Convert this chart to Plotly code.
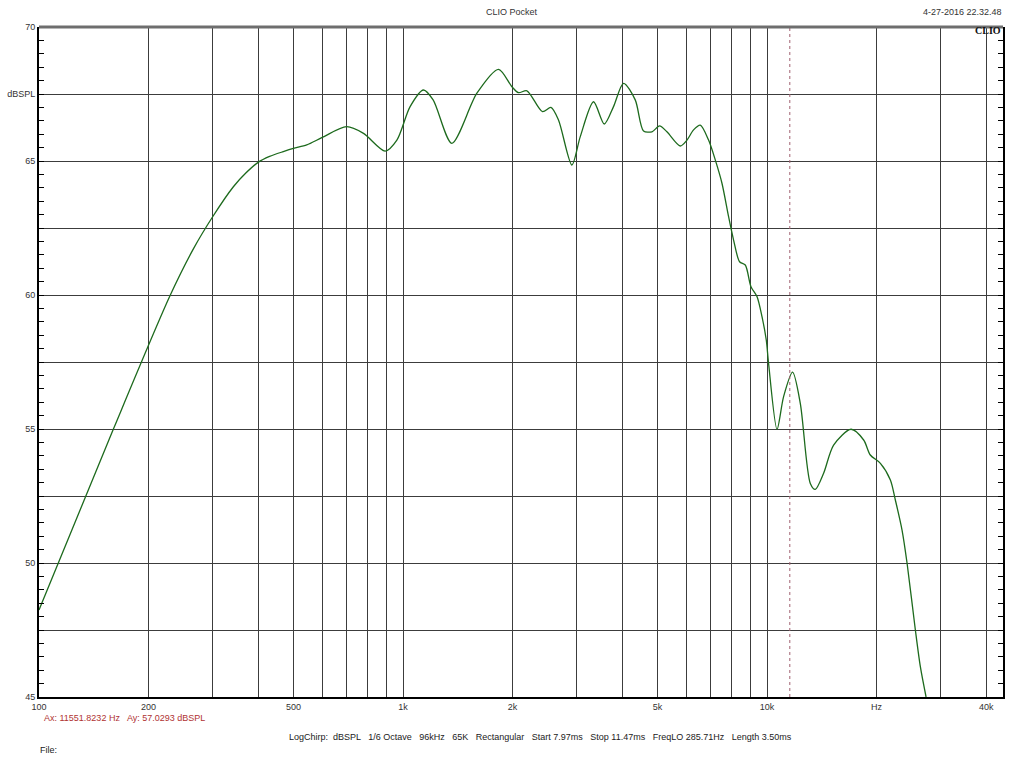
import plotly.graph_objects as go
import math

# Frequency response (Hz, dBSPL)
freq_hz = [100, 160, 229, 266, 300, 342, 370, 400, 430, 469, 500, 544, 600, 700,
           779, 893, 962, 1046, 1138, 1210, 1362, 1596, 1830, 1992, 2076, 2190,
           2417, 2549, 2674, 2911, 3069, 3338, 3572, 3787, 4035, 4345, 4580, 4830,
           5067, 5310, 5776, 6027, 6284, 6557, 6910, 7209, 7521, 7843, 8095, 8408,
           8716, 9036, 9386, 9689, 9954, 10100, 10654, 11108, 11757, 12344, 13153,
           13574, 14307, 15241, 17017, 18433, 19224, 20490, 21826, 22522, 23496,
           24258, 25564, 26383, 27353]
spl_db = [48.25, 54.99, 59.97, 61.74, 62.92, 64.04, 64.55, 64.95, 65.17, 65.35, 65.47,
          65.6, 65.88, 66.28,
          66.03, 65.37, 65.78, 67.03, 67.65, 67.28, 65.66, 67.53,
          68.42, 67.77, 67.55, 67.62, 66.84, 67.0, 66.53, 64.85, 65.91, 67.21, 66.38,
          67.03, 67.9, 67.28, 66.12, 66.09, 66.31, 66.09, 65.56, 65.78, 66.16, 66.34,
          65.78, 65.04, 64.17, 62.92, 62.05, 61.24, 61.12, 60.31, 59.94, 59.19, 58.32,
          57.45, 54.99, 56.21, 57.12, 55.96, 52.97, 52.75, 53.35, 54.4, 54.99, 54.59,
          54.03, 53.72, 53.1, 52.35, 51.23, 49.99, 47.5, 46.13, 45.0]

x_grid = [100, 200, 300, 400, 500, 600, 700, 800, 900,
          1000, 2000, 3000, 4000, 5000, 6000, 7000, 8000, 9000,
          10000, 20000, 30000, 40000]
x_labels = {100: "100", 200: "200", 500: "500", 1000: "1k", 2000: "2k",
            5000: "5k", 10000: "10k", 20000: "Hz", 40000: "40k"}
y_grid = [45, 47.5, 50, 52.5, 55, 57.5, 60, 62.5, 65, 67.5, 70]
y_labels = {45: "45", 50: "50", 55: "55", 60: "60", 65: "65", 67.5: "dBSPL", 70: "70"}
cursor_hz = 11551.8232
x_max = 44500

font = "Liberation Sans, Arial, sans-serif"
green = "#1d6a1d"

fig = go.Figure()
fig.add_trace(go.Scatter(x=freq_hz, y=spl_db, mode="lines",
                         line=dict(color=green, width=1.3, shape="spline", smoothing=0.8),
                         showlegend=False, hoverinfo="x+y"))
fig.add_trace(go.Scatter(x=freq_hz, y=spl_db, mode="lines", yaxis="y2",
                         line=dict(color="rgba(0,0,0,0)", width=0),
                         showlegend=False, hoverinfo="skip"))

fig.add_shape(type="line", x0=cursor_hz, x1=cursor_hz, y0=0, y1=1, xref="x", yref="paper",
              line=dict(color="#a06070", width=1, dash="dot"))
fig.add_shape(type="line", x0=0, x1=1, y0=1, y1=1, xref="paper", yref="paper",
              line=dict(color="#6e6e6e", width=3))


def px(xp):
    return (xp - 39) / (1003 - 39)


def py(yp):
    return (697 - yp) / (697 - 27)


anns = [
    dict(text="CLIO Pocket", x=px(512), y=py(12), xanchor="center", yanchor="middle",
         font=dict(size=9, color="#333")),
    dict(text="4-27-2016 22.32.48", x=px(1004), y=py(12), xanchor="right", yanchor="middle",
         font=dict(size=9, color="#333")),
    dict(text="<b>CLIO</b>", x=px(1003), y=py(31), xanchor="right", yanchor="middle",
         font=dict(size=10, color="#111", family="Liberation Serif, Times New Roman, serif")),
    dict(text="Ax: 11551.8232 Hz   Ay: 57.0293 dBSPL", x=px(42), y=py(718),
         xanchor="left", yanchor="middle", font=dict(size=9, color="#b03232")),
    dict(text="LogChirp:  dBSPL   1/6 Octave   96kHz   65K   Rectangular   Start 7.97ms   "
              "Stop 11.47ms   FreqLO 285.71Hz   Length 3.50ms",
         x=px(287), y=py(737), xanchor="left", yanchor="middle",
         font=dict(size=9, color="#222")),
    dict(text="File:", x=px(38), y=py(750), xanchor="left", yanchor="middle",
         font=dict(size=9, color="#222")),
]
for a in anns:
    a.update(xref="paper", yref="paper", showarrow=False)

fig.update_layout(
    width=1024, height=768, autosize=False,
    margin=dict(l=39, r=21, t=27, b=71),
    paper_bgcolor="white", plot_bgcolor="white",
    font=dict(family=font, size=9, color="#333"),
    xaxis=dict(type="log", range=[2, math.log10(x_max)], automargin=False,
               tickmode="array", tickvals=x_grid,
               ticktext=[x_labels.get(v, "") for v in x_grid],
               showgrid=True, gridcolor="#3c3c3c", gridwidth=1,
               showline=True, linecolor="black", linewidth=2,
               ticks="", ticklen=0, zeroline=False,
               tickfont=dict(size=9, color="#333")),
    yaxis=dict(range=[45, 70], tickmode="array", tickvals=y_grid, automargin=False,
               ticktext=[y_labels.get(v, "") for v in y_grid],
               showgrid=True, gridcolor="#3c3c3c", gridwidth=1,
               showline=True, linecolor="black", linewidth=2,
               ticks="", zeroline=False,
               minor=dict(dtick=0.5, tick0=45, ticks="inside", ticklen=5,
                          tickcolor="black", tickwidth=1, showgrid=False),
               tickfont=dict(size=9, color="#333")),
    yaxis2=dict(range=[45, 70], overlaying="y", side="right", automargin=False,
                showgrid=False, showticklabels=False, zeroline=False,
                showline=True, linecolor="black", linewidth=2,
                tickmode="array", tickvals=y_grid, ticks="",
                minor=dict(dtick=0.5, tick0=45, ticks="inside", ticklen=5,
                           tickcolor="black", tickwidth=1, showgrid=False)),
    annotations=anns,
)

fig.write_html("out.html", config={"responsive": False, "displayModeBar": False},
               post_script="document.body.style.margin='0';document.body.style.overflow='hidden';")
